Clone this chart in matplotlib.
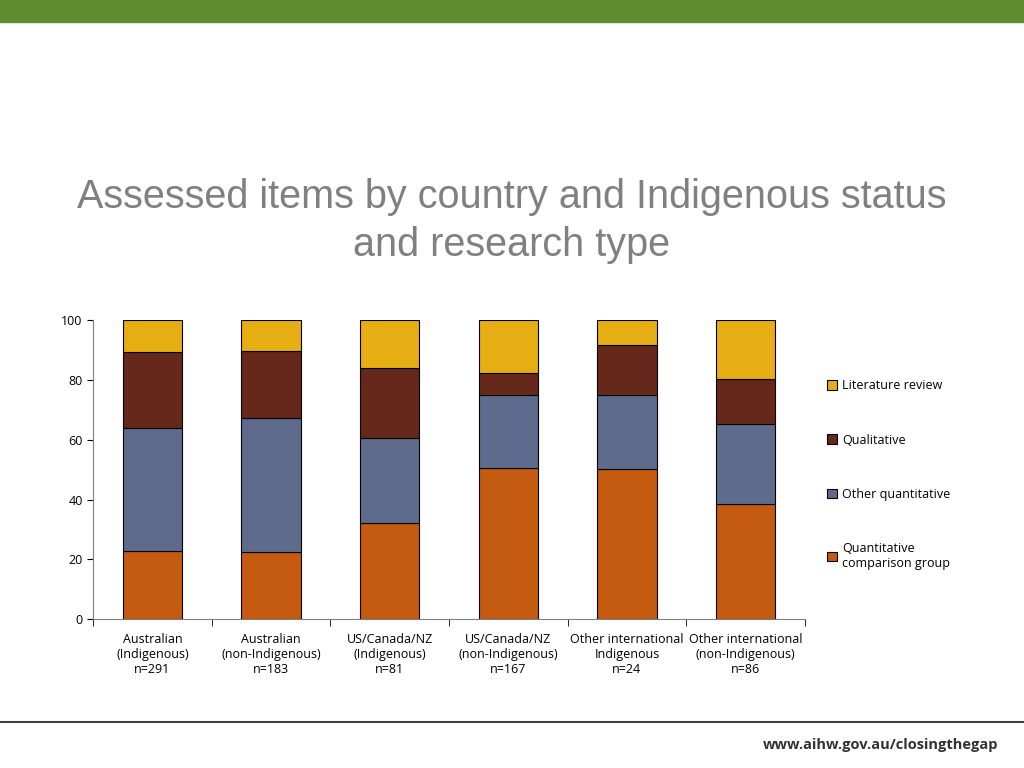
import matplotlib
matplotlib.use("Agg")
import matplotlib.pyplot as plt
import numpy as np

categories = ["Australian\n(Indigenous)\nn=291", "Australian\n(non-Indigenous)\nn=183",
              "US/Canada/NZ\n(Indigenous)\nn=81", "US/Canada/NZ\n(non-Indigenous)\nn=167",
              "Other international\nIndigenous\nn=24", "Other international\n(non-Indigenous)\nn=86"]
quant_comparison = [22.7, 22.4, 32.1, 50.5, 50.2, 38.5]
other_quant = [41.2, 44.8, 28.4, 24.4, 24.7, 26.7]
qualitative = [25.4, 22.4, 23.4, 7.4, 16.7, 15.1]
literature = [10.7, 10.4, 16.1, 17.7, 8.4, 19.7]

series = [("Quantitative\ncomparison group", quant_comparison, "#C55A11"),
          ("Other quantitative", other_quant, "#5F6B8C"),
          ("Qualitative", qualitative, "#65281B"),
          ("Literature review", literature, "#E6AE12")]

plt.rcParams['font.family'] = ['Open Sans', 'DejaVu Sans']
fig = plt.figure(figsize=(10.24, 7.68), dpi=100)
fig.patches.append(plt.Rectangle((0, 1 - 22/768), 1, 22/768, transform=fig.transFigure, color="#5E8C2E"))
fig.text(0.5, 1 - 197/768, "Assessed items by country and Indigenous status", ha="center", va="center",
         fontsize=28.5, color="#808080", family="Liberation Sans")
fig.text(0.5, 1 - 245/768, "and research type", ha="center", va="center",
         fontsize=28.5, color="#808080", family="Liberation Sans")
fig.add_artist(plt.Line2D([0, 1], [1 - 722/768]*2, color="#404040", lw=1.5, transform=fig.transFigure))
fig.text(0.975, 1 - 745/768, "www.aihw.gov.au/closingthegap", ha="right", va="center",
         fontsize=10.5, fontweight="bold", color="#333333")

ax = fig.add_axes([0.091, 0.194, 0.695, 0.389])
x = np.arange(len(categories))
bottom = np.zeros(len(categories))
handles = []
for name, vals, col in series:
    b = ax.bar(x, vals, 0.5, bottom=bottom, color=col, edgecolor="black", linewidth=0.8, label=name)
    handles.append(b)
    bottom += np.array(vals)
ax.set_xlim(-0.5, len(categories) - 0.5)
ax.set_ylim(0, 100)
ax.set_yticks([0, 20, 40, 60, 80, 100])
ax.set_xticks(np.arange(-0.5, len(categories), 1), minor=True)
ax.set_xticks(x)
ax.set_xticklabels(categories, fontsize=9)
ax.tick_params(axis="x", which="major", length=0, pad=10)
ax.tick_params(axis="x", which="minor", length=5, direction="out")
ax.tick_params(axis="y", labelsize=9, length=4, direction="out")
for s in ["top", "right"]:
    ax.spines[s].set_visible(False)
ax.spines["left"].set_color("#808080")
ax.spines["bottom"].set_color("#808080")
fig.legend(handles[::-1], [s[0] for s in series][::-1], loc="upper left",
           bbox_to_anchor=(0.797, 1 - 368/768), frameon=False, fontsize=9,
           handlelength=0.8, handleheight=0.8, labelspacing=3.3, handletextpad=0.4)
fig.savefig("out.png", dpi=100)
